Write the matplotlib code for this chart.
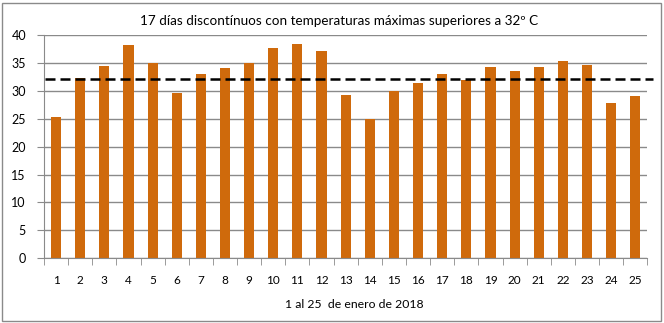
import matplotlib
matplotlib.use("Agg")
import matplotlib.pyplot as plt
from matplotlib.patches import Rectangle

plt.rcParams["font.family"] = ["Lato", "DejaVu Sans"]

days = list(range(1, 26))
tmax = [25.3, 32.3, 34.5, 38.2, 34.9, 29.6, 33.0, 34.1, 34.9, 37.7,
        38.4, 37.2, 29.3, 24.9, 30.0, 31.4, 33.0, 32.0, 34.3, 33.6,
        34.3, 35.4, 34.6, 27.8, 29.1]
threshold = 32.1
title = "17 días discontínuos con temperaturas máximas superiores a 32º C"
xlabel = "1 al 25  de enero de 2018"

fig = plt.figure(figsize=(6.64, 3.23), dpi=100)
ax = fig.add_axes([44 / 664, 1 - 258.3 / 323, (647.3 - 44) / 664, (258.3 - 35) / 323])

ax.bar(days, tmax, width=0.42, color="#CF6A0C", zorder=2)
ax.set_xlim(0.5, 25.5)
ax.set_ylim(0, 40)
ax.set_yticks(range(0, 41, 5))
ax.set_xticks(days)
ax.set_xticks([d + 0.5 for d in range(0, 26)], minor=True)
ax.grid(axis="y", color="#8a8a8a", linewidth=1, zorder=0)

# dashed threshold line, running slightly past the right edge
ax.plot([0.55, 25.75], [threshold, threshold], color="black", linestyle=(0, (4, 2)),
        linewidth=1.8, clip_on=False, zorder=3)

for side in ("top", "right"):
    ax.spines[side].set_visible(False)
for side in ("left", "bottom"):
    ax.spines[side].set_color("#8a8a8a")
ax.tick_params(axis="x", which="major", length=0, pad=12, labelsize=8.5)
ax.tick_params(axis="x", which="minor", length=5, color="#8a8a8a")
ax.tick_params(axis="y", length=5, color="#8a8a8a", labelsize=9, pad=8)

fig.text(339 / 664, 1 - 21 / 323, title, ha="center", va="center", fontsize=9.7)
fig.text(354 / 664, 1 - 305 / 323, xlabel, ha="center", va="center", fontsize=8.8)

fig.patches.append(Rectangle((2 / 664, 2 / 323), 659 / 664, 318 / 323,
                             transform=fig.transFigure, fill=False,
                             edgecolor="#8a8a8a", linewidth=1))

fig.savefig("out.png", dpi=100)
